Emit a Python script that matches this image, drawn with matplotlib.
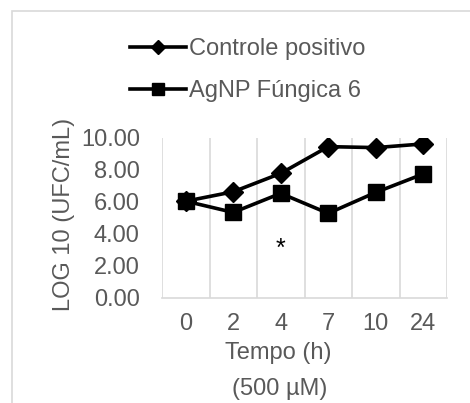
import numpy as np
import matplotlib.pyplot as plt
from matplotlib.patches import Rectangle

plt.rcParams['font.family'] = ['Liberation Sans', 'DejaVu Sans']

tempos = ['0', '2', '4', '7', '10', '24']
controle = [6.05, 6.64, 7.79, 9.46, 9.40, 9.63]
agnp = [6.05, 5.35, 6.54, 5.29, 6.60, 7.75]
yticks = [0, 2, 4, 6, 8, 10]

grey = '#595959'
fs = 17

fig = plt.figure(figsize=(4.7, 4.03), dpi=100)
fig.patches.append(Rectangle((12 / 470, -0.1), 1.2, 1 - 11 / 403 + 0.1,
                             transform=fig.transFigure, fill=False,
                             edgecolor='#d9d9d9', lw=1.2))
ax = fig.add_axes([162 / 470, 1 - 298 / 403, 285 / 470, 160 / 403])

x = np.arange(len(tempos))
l1, = ax.plot(x, controle, color='black', lw=2.6, marker='D', ms=10)
l2, = ax.plot(x, agnp, color='black', lw=2.6, marker='s', ms=11)
ax.text(2, 3.1, '*', ha='center', va='center', fontsize=fs + 1, color='black')

ax.set_xlim(-0.5, len(tempos) - 0.5)
ax.set_ylim(0, 10)
ax.set_xticks(x)
ax.set_xticklabels(tempos)
ax.set_yticks(yticks)
ax.set_yticklabels([f'{v:.2f}' for v in yticks])
for b in np.arange(-0.5, len(tempos), 1):
    ax.axvline(b, color='#d9d9d9', lw=1.2, zorder=0)
for s in ['top', 'right', 'left']:
    ax.spines[s].set_visible(False)
ax.spines['bottom'].set_color('#d9d9d9')
ax.spines['bottom'].set_linewidth(1.2)
ax.tick_params(length=0, labelsize=fs, labelcolor=grey)
ax.tick_params(axis='y', pad=16)
ax.tick_params(axis='x', pad=11)
ax.set_ylabel('LOG 10 (UFC/mL)', fontsize=fs, color=grey)
ax.yaxis.set_label_coords(-0.305, 0.52)

fig.text(278 / 470, 1 - 353 / 403, 'Tempo (h)', ha='center', va='center',
         fontsize=fs, color=grey)
fig.text(280 / 470, 1 - 389 / 403, '(500 µM)', ha='center', va='center',
         fontsize=fs, color=grey)

fig.legend([l1, l2], ['Controle positivo', 'AgNP Fúngica 6'], loc='center',
           bbox_to_anchor=(248 / 470, 1 - 70 / 403), frameon=False,
           fontsize=fs, labelcolor=grey, handlelength=2.35, handletextpad=0.15,
           labelspacing=0.85, borderpad=0, borderaxespad=0, markerscale=0.75)

fig.savefig('out.png', dpi=100)
